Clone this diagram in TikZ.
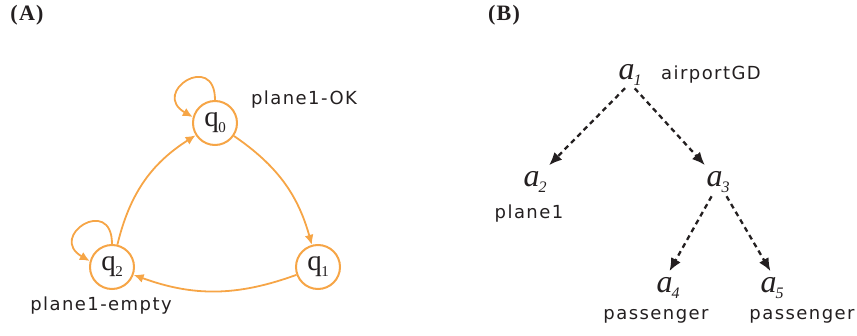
\documentclass[tikz,border=0pt]{standalone}
\usepackage{fontspec}
\usepackage{xcolor}
\setmainfont{Liberation Serif}
\newfontfamily\lblfont[LetterSpace=8]{DejaVu Sans}
\newfontfamily\panelfont[LetterSpace=6]{Liberation Serif}
\usetikzlibrary{arrows.meta, positioning}

\definecolor{fsmorange}{HTML}{F6A546}
\definecolor{inkgray}{HTML}{231F20}

\newcommand{\qstate}[1]{q\kern-0.5pt\raisebox{-6pt}{\fontsize{15}{15}\selectfont #1}}
\newcommand{\argvar}[1]{\textit{a}\kern-1pt\raisebox{-6pt}{\fontsize{16}{16}\selectfont\textit{#1}}}

\begin{document}
\begin{tikzpicture}[x=1pt, y=1pt,
  state/.style = {circle, draw=fsmorange, line width=2pt, minimum size=44pt,
                  inner sep=0pt, text=inkgray, font=\fontsize{29}{29}\selectfont},
  trans/.style = {-{Latex[length=10pt,width=9pt]}, draw=fsmorange, line width=1.8pt},
  arg/.style   = {anchor=base, inner sep=3pt, text height=15pt, text depth=0pt,
                  text=inkgray, font=\fontsize{32}{32}\selectfont},
  dep/.style   = {-{Latex[length=13pt,width=11pt]}, line width=2.3pt, inkgray,
                  dash pattern=on 5pt off 4pt},
  txt/.style   = {anchor=base, inner sep=0pt, text=inkgray,
                  font=\lblfont\fontsize{18}{18}\selectfont},
  panel/.style = {inner sep=0pt, text=inkgray, font=\panelfont\bfseries\fontsize{22}{22}\selectfont},
]
  \useasboundingbox (0,0) rectangle (857,335);

  % (A) automaton
  \node[panel] (pa) at (27,320) {(A)};
  \node[state] (q0) at (215,212) {\qstate{0}};
  \node[state] (q1) at (318,68)  {\qstate{1}};
  \node[state] (q2) at (112,68)  {\qstate{2}};
  \node[txt] (ok)    at (304,230) {plane1-OK};
  \node[txt] (empty) at (101,25)  {plane1-empty};

  \draw[trans] (q0.90) to[out=90, in=150, looseness=4.5] (q0.165);
  \draw[trans] (q2.90) to[out=90, in=150, looseness=4.5] (q2.165);
  \draw[trans] (q0) to[bend left=20] (q1);
  \draw[trans] (q1) to[bend left=20] (q2);
  \draw[trans] (q2) to[bend left=22] (q0);

  % (B) argument tree
  \node[panel] (pb) at (504,320) {(B)};
  \node[arg] (a1) at (630,255) {\argvar{1}};
  \node[arg] (a2) at (535,148) {\argvar{2}};
  \node[arg] (a3) at (718,148) {\argvar{3}};
  \node[arg] (a4) at (668,43)  {\argvar{4}};
  \node[arg] (a5) at (772,43)  {\argvar{5}};
  \node[txt] (airport) at (711,255) {airportGD};
  \node[txt] (plane)   at (529,117) {plane1};
  \node[txt] (pass4)   at (656,16)  {passenger};
  \node[txt] (pass5)   at (802,16)  {passenger};

  \draw[dep, shorten <=7pt, shorten >=5pt] (a1.south) -- (a2);
  \draw[dep, shorten <=7pt, shorten >=5pt] (a1.south) -- (a3);
  \draw[dep, shorten <=7pt, shorten >=3pt] ([xshift=-3pt]a3.south) -- (a4.north);
  \draw[dep, shorten <=7pt, shorten >=3pt] ([xshift=5pt]a3.south) -- (a5.north);
\end{tikzpicture}
\end{document}
